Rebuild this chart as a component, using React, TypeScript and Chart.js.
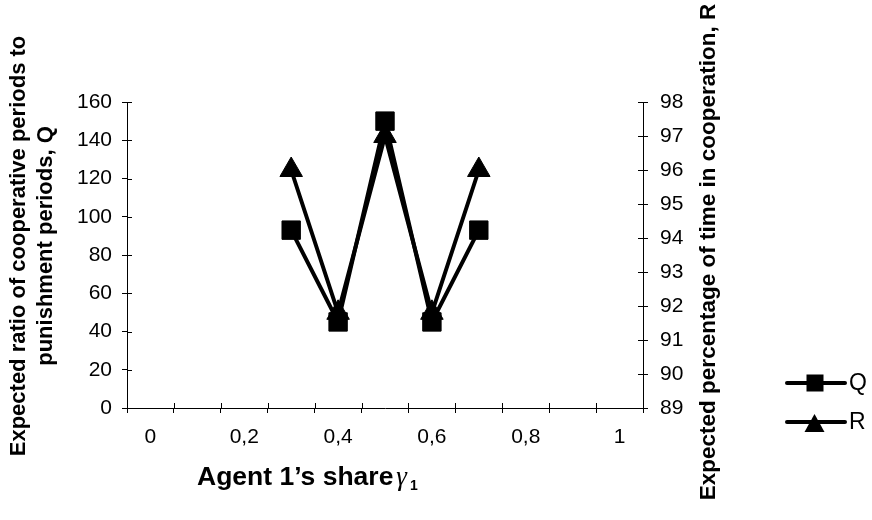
import React, { useEffect, useRef } from 'react';
import { Chart, registerables } from 'chart.js';

Chart.register(...registerables);

// ---- data ----
const categories = ['0', '0,1', '0,2', '0,3', '0,4', '0,5', '0,6', '0,7', '0,8', '0,9', '1'];
const qValues = [null, null, null, 93, 45, 150, 45, 93, null, null, null];
const rValues = [null, null, null, 96, 91.8, 97, 91.8, 96, null, null, null];
const qAxisMin = 0;
const qAxisMax = 160;
const qAxisStep = 20;
const rAxisMin = 89;
const rAxisMax = 98;
const rAxisStep = 1;
const seriesNames = ['Q', 'R'];
const xTitle = 'Agent 1\u2019s share';
const xTitleSymbol = '\u03B3';
const xTitleSub = '1';
const leftTitle = ['Expected ratio of cooperative periods to', 'punishment periods, Q'];
const rightTitle = 'Expected percentage of time in cooperation, R';

const SANS = '"Liberation Sans", Arial, sans-serif';

const decorPlugin = {
  id: 'decor',
  afterDraw(chart: any) {
    const ctx = chart.ctx as CanvasRenderingContext2D;
    const xs = chart.scales.x;
    const yq = chart.scales.yQ;
    const yr = chart.scales.yR;
    ctx.save();
    ctx.strokeStyle = '#000';
    ctx.lineWidth = 1;
    // inner halves of crossing tick marks
    ctx.beginPath();
    const n = xs.ticks.length;
    for (let i = 0; i <= n; i++) {
      const px = Math.round(xs.left + (i * xs.width) / n) + 0.5;
      ctx.moveTo(px, xs.top);
      ctx.lineTo(px, xs.top - 5);
    }
    yq.ticks.forEach((t: any) => {
      const py = Math.round(yq.getPixelForValue(t.value)) + 0.5;
      ctx.moveTo(yq.right, py);
      ctx.lineTo(yq.right + 5, py);
    });
    yr.ticks.forEach((t: any) => {
      const py = Math.round(yr.getPixelForValue(t.value)) + 0.5;
      ctx.moveTo(yr.left, py);
      ctx.lineTo(yr.left - 5, py);
    });
    ctx.stroke();

    ctx.fillStyle = '#000';
    // left axis title (two lines, rotated)
    ctx.save();
    ctx.font = `bold 22px ${SANS}`;
    ctx.textAlign = 'center';
    ctx.textBaseline = 'middle';
    const lx = [19, 46];
    leftTitle.forEach((line, i) => {
      ctx.save();
      ctx.translate(lx[i], 246);
      ctx.rotate(-Math.PI / 2);
      ctx.fillText(line, 0, 0);
      ctx.restore();
    });
    // right axis title
    ctx.save();
    ctx.font = `bold 22.5px ${SANS}`;
    ctx.translate(709, 252);
    ctx.rotate(-Math.PI / 2);
    ctx.fillText(rightTitle, 0, 0);
    ctx.restore();
    ctx.restore();

    // x axis title
    ctx.save();
    ctx.textAlign = 'left';
    ctx.textBaseline = 'alphabetic';
    ctx.font = `bold 26.5px ${SANS}`;
    const tx = 197;
    ctx.fillText(xTitle, tx, 485);
    const w = ctx.measureText(xTitle).width;
    ctx.font = 'italic 27px "Liberation Serif", "DejaVu Serif", serif';
    const gx = tx + w + 3;
    ctx.fillText(xTitleSymbol, gx, 485);
    const gw = ctx.measureText(xTitleSymbol).width;
    ctx.font = `bold 14px ${SANS}`;
    ctx.fillText(xTitleSub, gx + gw + 3, 490);
    ctx.restore();

    // legend
    ctx.save();
    ctx.lineWidth = 4;
    ctx.lineCap = 'round';
    const ly = [383, 422];
    ly.forEach((y) => {
      ctx.beginPath();
      ctx.moveTo(787, y);
      ctx.lineTo(845, y);
      ctx.stroke();
    });
    ctx.fillRect(806.5, ly[0] - 8.5, 17, 17);
    ctx.beginPath();
    ctx.moveTo(814.5, 414);
    ctx.lineTo(824.5, 432);
    ctx.lineTo(804.5, 432);
    ctx.closePath();
    ctx.fill();
    ctx.font = `23px ${SANS}`;
    ctx.textAlign = 'left';
    ctx.textBaseline = 'middle';
    ctx.fillText(seriesNames[0], 849, ly[0] + 1);
    ctx.fillText(seriesNames[1], 849, ly[1] + 1);
    ctx.restore();

    ctx.restore();
  },
};

export default function App() {
  const canvasRef = useRef<HTMLCanvasElement | null>(null);

  useEffect(() => {
    if (!canvasRef.current) return;
    const tickFont = { family: SANS, size: 21 };
    const chart = new Chart(canvasRef.current, {
      type: 'line',
      data: {
        labels: categories,
        datasets: [
          {
            label: seriesNames[0],
            data: qValues,
            yAxisID: 'yQ',
            borderColor: '#000',
            backgroundColor: '#000',
            borderWidth: 4,
            pointStyle: 'rect',
            pointRadius: 13,
            pointBorderWidth: 1,
            pointBackgroundColor: '#000',
            pointBorderColor: '#000',
            tension: 0,
            clip: false as any,
          },
          {
            label: seriesNames[1],
            data: rValues,
            yAxisID: 'yR',
            borderColor: '#000',
            backgroundColor: '#000',
            borderWidth: 4,
            pointStyle: 'triangle',
            pointRadius: 13,
            pointBorderWidth: 1,
            pointBackgroundColor: '#000',
            pointBorderColor: '#000',
            tension: 0,
            clip: false as any,
          },
        ],
      },
      options: {
        animation: false,
        responsive: false,
        maintainAspectRatio: false,
        layout: { padding: { top: 102, left: 0, right: 0, bottom: 0 } },
        plugins: {
          legend: { display: false },
          tooltip: { enabled: false },
          title: { display: false },
        },
        scales: {
          x: {
            type: 'category',
            offset: true,
            grid: {
              display: true,
              offset: true,
              drawOnChartArea: false,
              drawTicks: true,
              tickLength: 5,
              color: '#000',
              lineWidth: 1,
            },
            border: { display: true, color: '#000', width: 1 },
            ticks: {
              autoSkip: false,
              maxRotation: 0,
              minRotation: 0,
              padding: 12,
              color: '#000',
              font: tickFont,
              callback: (_v: any, i: number) => (i % 2 === 0 ? categories[i] : ''),
            },
            afterFit: (s: any) => {
              s.height = 112;
            },
          },
          yQ: {
            type: 'linear',
            position: 'left',
            min: qAxisMin,
            max: qAxisMax,
            grid: {
              display: true,
              drawOnChartArea: false,
              drawTicks: true,
              tickLength: 5,
              color: '#000',
            },
            border: { display: true, color: '#000', width: 1 },
            ticks: { stepSize: qAxisStep, padding: 10, color: '#000', font: tickFont },
            afterFit: (s: any) => {
              s.width = 127;
            },
          },
          yR: {
            type: 'linear',
            position: 'right',
            min: rAxisMin,
            max: rAxisMax,
            grid: {
              display: true,
              drawOnChartArea: false,
              drawTicks: true,
              tickLength: 5,
              color: '#000',
            },
            border: { display: true, color: '#000', width: 1 },
            ticks: { stepSize: rAxisStep, padding: 12, color: '#000', font: tickFont },
            afterFit: (s: any) => {
              s.width = 229;
            },
          },
        },
      } as any,
      plugins: [decorPlugin],
    });
    return () => chart.destroy();
  }, []);

  return (
    <div style={{ position: 'fixed', left: 0, top: 0, width: 872, height: 520, background: '#fff' }}>
      <canvas ref={canvasRef} width={872} height={520} style={{ width: 872, height: 520, display: 'block' }} />
    </div>
  );
}
